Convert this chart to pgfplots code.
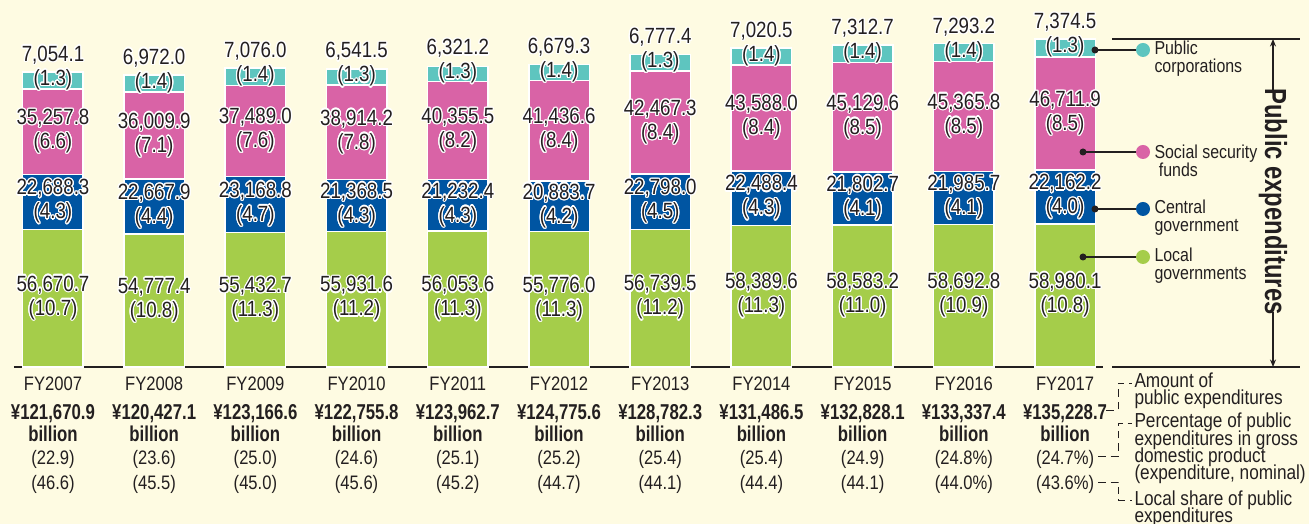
\documentclass[border=0pt]{standalone}
\usepackage{fontspec}
\setmainfont{Liberation Sans}[FakeStretch=0.85]
\newfontfamily\condb{Liberation Sans}[FakeStretch=0.78]
\usepackage{pgfplots}
\usepackage{pgfplotstable}
\pgfplotsset{compat=1.18}
\usepackage[copies]{contour}
\contourlength{0.5pt}
\usetikzlibrary{arrows.meta,backgrounds}

\definecolor{bgc}{HTML}{FEFBE2}
\definecolor{cpub}{HTML}{5EC5BF}
\definecolor{csoc}{HTML}{D963A6}
\definecolor{ccen}{HTML}{0055A2}
\definecolor{cloc}{HTML}{A5CD4A}
\definecolor{ink}{HTML}{231F20}

% billion yen, (share of GDP %)
\pgfplotstableread{
x loc locp cen cenp soc socp pub pubp
0 56670.7 10.7 22688.3 4.3 35257.8 6.6 7054.1 1.3
1 54777.4 10.8 22667.9 4.4 36009.9 7.1 6972.0 1.4
2 55432.7 11.3 23168.8 4.7 37489.0 7.6 7076.0 1.4
3 55931.6 11.2 21368.5 4.3 38914.2 7.8 6541.5 1.3
4 56053.6 11.3 21232.4 4.3 40355.5 8.2 6321.2 1.3
5 55776.0 11.3 20883.7 4.2 41436.6 8.4 6679.3 1.4
6 56739.5 11.2 22798.0 4.5 42467.3 8.4 6777.4 1.3
7 58389.6 11.3 22488.4 4.3 43588.0 8.4 7020.5 1.4
8 58583.2 11.0 21802.7 4.1 45129.6 8.5 7312.7 1.4
9 58692.8 10.9 21985.7 4.1 45365.8 8.5 7293.2 1.4
10 58980.1 10.8 22162.2 4.0 46711.9 8.5 7374.5 1.3
}\data

\newcommand\Y[1]{{\condb\bfseries\fontsize{8.6}{9.2}\selectfont #1}}
\newcommand\tight{\lineskiplimit=-10pt\relax}

% value and (share) in the middle of each segment
\pgfplotsset{
  lab/.style={
    visualization depends on=rawy\as\rawy,
    nodes near coords={\contour{white}{\pgfmathprintnumber[fixed,fixed zerofill,precision=1,1000 sep={,},assume math mode=true]{\rawy}}\\\contour{white}{(\pgfplotspointmeta)}},
    every node near coord/.append style={anchor=center, align=center,
      font={\fontsize{8.8}{9.6}\selectfont\tight}, text=ink, inner sep=0pt},
  },
}

\begin{document}
\begin{tikzpicture}[x=0.4pt,y=0.4pt]

\begin{axis}[
  scale only axis, width=435.6pt, height=135.83pt,
  xmin=-0.385, xmax=10.375, ymin=0, ymax=140000,
  ybar stacked, bar width=0.598,
  axis x line*=bottom, axis y line=none, ytick=\empty,
  x axis line style={line width=0.5pt,-,ink},
  xtick={0,...,10}, major tick length=0pt,
  xticklabel style={font={\fontsize{7.8}{9.0}\selectfont}, align=center, text=ink, yshift=-0.5pt},
  xticklabels={
    {FY2007\\[2.4pt]\Y{¥121,670.9}\\\Y{billion}\\(22.9)\\[1.2pt](46.6)},
    {FY2008\\[2.4pt]\Y{¥120,427.1}\\\Y{billion}\\(23.6)\\[1.2pt](45.5)},
    {FY2009\\[2.4pt]\Y{¥123,166.6}\\\Y{billion}\\(25.0)\\[1.2pt](45.0)},
    {FY2010\\[2.4pt]\Y{¥122,755.8}\\\Y{billion}\\(24.6)\\[1.2pt](45.6)},
    {FY2011\\[2.4pt]\Y{¥123,962.7}\\\Y{billion}\\(25.1)\\[1.2pt](45.2)},
    {FY2012\\[2.4pt]\Y{¥124,775.6}\\\Y{billion}\\(25.2)\\[1.2pt](44.7)},
    {FY2013\\[2.4pt]\Y{¥128,782.3}\\\Y{billion}\\(25.4)\\[1.2pt](44.1)},
    {FY2014\\[2.4pt]\Y{¥131,486.5}\\\Y{billion}\\(25.4)\\[1.2pt](44.4)},
    {FY2015\\[2.4pt]\Y{¥132,828.1}\\\Y{billion}\\(24.9)\\[1.2pt](44.1)},
    {FY2016\\[2.4pt]\Y{¥133,337.4}\\\Y{billion}\\(24.8\%)\\[1.2pt](44.0\%)},
    {FY2017\\[2.4pt]\Y{¥135,228.7}\\\Y{billion}\\(24.7\%)\\[1.2pt](43.6\%)}},
  point meta=explicit symbolic,
  clip=false,
]
\addplot[fill=cloc, draw=white, line width=0.6pt, lab] table[x=x,y=loc,meta=locp]{\data};
\addplot[fill=ccen, draw=white, line width=0.6pt, lab] table[x=x,y=cen,meta=cenp]{\data};
\addplot[fill=csoc, draw=white, line width=0.6pt, lab] table[x=x,y=soc,meta=socp]{\data};
\addplot[fill=cpub, draw=white, line width=0.6pt, lab,
  every node near coord/.append style={yshift=4.8pt}] table[x=x,y=pub,meta=pubp]{\data};
\coordinate (O) at (rel axis cs:0,0);
\end{axis}

% everything else in picture pixels, lined up on the axis corner (14,157)
\begin{scope}[shift={(O)}, shift={(-14,-157)}]
\begin{scope}[on background layer]
\fill[bgc] (0,0) rectangle (1309,524);
\end{scope}

% right-hand frame
\draw[ink, line width=0.5pt] (1112,485) -- (1300,485);
\draw[ink, line width=0.5pt] (1112,157) -- (1300,157);
\node[rotate=-90, text=ink, font={\condb\bfseries\fontsize{12.2}{12}\selectfont}] at (1273,322.5) {Public expenditures};
\draw[ink, line width=0.45pt, -{Stealth[length=3pt,width=2.4pt]}] (1273,433) -- (1273,485);
\draw[ink, line width=0.45pt, -{Stealth[length=3pt,width=2.4pt]}] (1273,212) -- (1273,157);

% legend keys linked to the FY2017 bar
\begin{scope}[every node/.style={anchor=west, align=left, text=ink, inner sep=0pt, font={\fontsize{7.5}{7.2}\selectfont\tight}}]
\draw[ink, line width=0.45pt] (1095,474) -- (1143,474);
\fill[ink] (1095,474) circle (1.4pt);
\fill[cpub] (1143,474) circle (2.8pt);
\node at (1154,465) {Public\\corporations};
\draw[ink, line width=0.45pt] (1083,372) -- (1143,372);
\fill[ink] (1083,372) circle (1.4pt);
\fill[csoc] (1143,372) circle (2.8pt);
\node at (1154,363.5) {Social security\\\ funds};
\draw[ink, line width=0.45pt] (1095,315) -- (1143,315);
\fill[ink] (1095,315) circle (1.4pt);
\fill[ccen] (1143,315) circle (2.8pt);
\node at (1154,306) {Central\\government};
\draw[ink, line width=0.45pt] (1083,267) -- (1143,267);
\fill[ink] (1083,267) circle (1.4pt);
\fill[cloc] (1143,267) circle (2.8pt);
\node at (1154,258) {Local\\governments};
\end{scope}

% notes under the chart
\begin{scope}[every node/.style={anchor=west, align=left, text=ink, inner sep=0pt, font={\fontsize{8.1}{6.9}\selectfont\tight}}]
\draw[ink, line width=0.35pt, densely dashed] (1106,114) -- (1118,114) -- (1118,141) -- (1132,141);
\node at (1134,133.5) {Amount of\\public expenditures};
\draw[ink, line width=0.35pt, densely dashed] (1098,68) -- (1118,68) -- (1118,101) -- (1132,101);
\node at (1134,75.5) {Percentage of public\\expenditures in gross\\domestic product\\(expenditure, nominal)};
\draw[ink, line width=0.35pt, densely dashed] (1098,42) -- (1118,42) -- (1118,24) -- (1132,24);
\node at (1134,15.5) {Local share of public\\expenditures};
\end{scope}
\pgfresetboundingbox
\useasboundingbox (0,0) rectangle (1309,524);
\end{scope}
\end{tikzpicture}
\end{document}
